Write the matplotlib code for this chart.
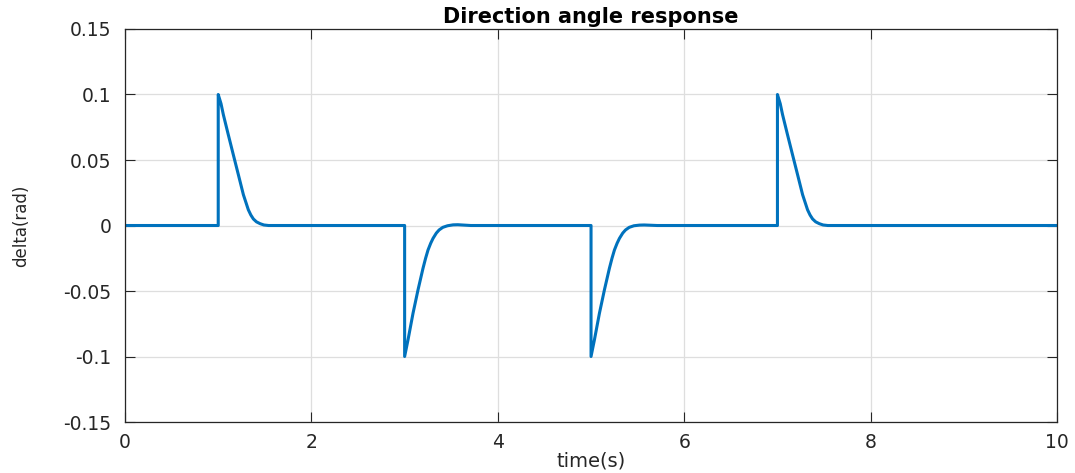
import matplotlib
matplotlib.use('Agg')
import matplotlib.pyplot as plt

# steering angle response: pulses at t = 1, 3, 5, 7 s
time = [0, 1.0, 1.0, 1.03, 1.055, 1.108, 1.162, 1.216, 1.27, 1.30, 1.323, 1.35, 1.377, 1.41, 1.449, 1.49, 1.54,
        3.0, 3.0, 3.036, 3.09, 3.144, 3.197, 3.225, 3.251, 3.28, 3.305, 3.34, 3.37, 3.41, 3.46, 3.52, 3.57, 3.64, 3.71,
        5.0, 5.0, 5.036, 5.09, 5.144, 5.197, 5.225, 5.251, 5.28, 5.305, 5.34, 5.37, 5.41, 5.46, 5.52, 5.57, 5.64, 5.71,
        7.0, 7.0, 7.03, 7.055, 7.108, 7.162, 7.216, 7.27, 7.30, 7.323, 7.35, 7.377, 7.41, 7.449, 7.49, 7.54,
        10.0]
delta = [0, 0, 0.1, 0.093, 0.0846, 0.0693, 0.054, 0.0388, 0.0235, 0.017, 0.012, 0.008, 0.005, 0.0028, 0.0014, 0.0004, 0,
         0, -0.1, -0.0874, -0.067, -0.049, -0.0327, -0.025, -0.0187, -0.0135, -0.0098, -0.0058, -0.0034, -0.0014, -0.0002, 0.0005, 0.0006, 0.0003, 0,
         0, -0.1, -0.0874, -0.067, -0.049, -0.0327, -0.025, -0.0187, -0.0135, -0.0098, -0.0058, -0.0034, -0.0014, -0.0002, 0.0003, 0.0004, 0.0002, 0,
         0, 0.1, 0.093, 0.0846, 0.0693, 0.054, 0.0388, 0.0235, 0.017, 0.012, 0.008, 0.005, 0.0028, 0.0014, 0.0004, 0,
         0]

xticks = [0, 2, 4, 6, 8, 10]
yticks = [-0.15, -0.1, -0.05, 0, 0.05, 0.1, 0.15]
ytick_labels = ['-0.15', '-0.1', '-0.05', '0', '0.05', '0.1', '0.15']

plt.rcParams['font.family'] = ['DejaVu Sans']
dark = '#262626'

fig = plt.figure(figsize=(10.75, 4.73), dpi=100)
ax = fig.add_axes([0.1163, 0.1078, 0.8670, 0.8309])

ax.plot(time, delta, color='#0072BD', linewidth=2.2)

ax.set_xlim(0, 10)
ax.set_ylim(-0.15, 0.15)
ax.set_xticks(xticks)
ax.set_yticks(yticks)
ax.set_yticklabels(ytick_labels)

ax.grid(True, color='#dedede', linewidth=0.9)
ax.set_axisbelow(True)
ax.tick_params(direction='in', length=7, width=0.8, colors=dark, labelsize=13.5,
               top=True, right=True)
ax.tick_params(axis='y', pad=10)
ax.tick_params(axis='x', pad=8)
for s in ax.spines.values():
    s.set_color(dark)
    s.set_linewidth(0.9)

ax.set_title('Direction angle response', fontsize=15, fontweight='bold', pad=4)
ax.set_xlabel('time(s)', fontsize=14, color=dark, va='center')
ax.xaxis.set_label_coords(0.5, -0.099)
ax.set_ylabel('delta(rad)', fontsize=12, color=dark, va='center')
ax.yaxis.set_label_coords(-0.112, 0.5)

fig.savefig('out.png', dpi=100)
